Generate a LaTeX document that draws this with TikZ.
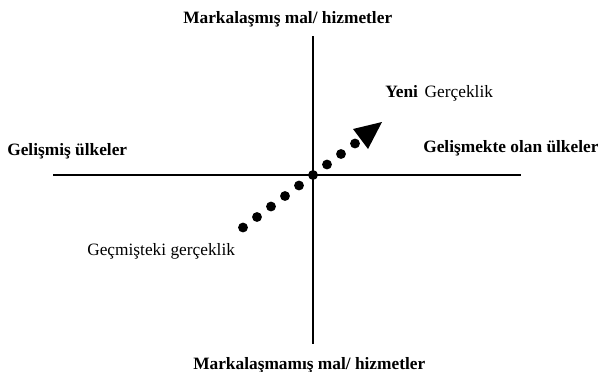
\documentclass[tikz,border=0pt]{standalone}
\usepackage{fontspec}
\setmainfont{Liberation Serif}
\begin{document}
\begin{tikzpicture}[x=0.75pt,y=-0.75pt,
  lbl/.style={anchor=base west,inner sep=0pt,font=\fontsize{13}{15}\selectfont},
  blbl/.style={lbl,font=\fontsize{13}{15}\selectfont\bfseries},
  axis/.style={line width=1.3pt,black},
  dotnode/.style={circle,fill=black,inner sep=0pt,minimum size=7.4pt}]
\useasboundingbox (0,0) rectangle (598,371);
% axes
\coordinate (top) at (313,36);
\coordinate (bot) at (313,344);
\coordinate (left) at (53,175);
\coordinate (right) at (521,175);
\draw[axis] (top) -- (bot);
\draw[axis] (left) -- (right);
% labels
\node[blbl] (tl) at (183,23) {Markalaşmış mal/ hizmetler};
\node[blbl] (bl) at (193,369) {Markalaşmamış mal/ hizmetler};
\node[blbl] (ll) at (7,155) {Gelişmiş ülkeler};
\node[blbl] (rl) at (423,152) {Gelişmekte olan ülkeler};
\node[lbl] (past) at (87,255) {Geçmişteki gerçeklik};
\node[lbl] (new) at (385,97) {\textbf{Yeni}\hspace{5pt}Gerçeklik};
% dotted arrow
\foreach \i in {-5,...,3} {
  \node[dotnode] (d\i) at ({313+14*\i},{175-10.5*\i}) {};
}
\coordinate (tipa) at (382,122);
\coordinate (tipb) at (353,129);
\coordinate (tipc) at (368,149);
\fill (tipa) -- (tipb) -- (tipc) -- cycle;
\end{tikzpicture}
\end{document}
